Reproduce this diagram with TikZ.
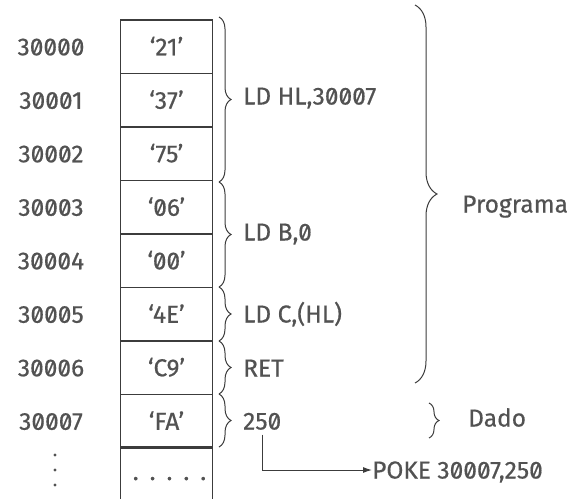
\documentclass[tikz,border=0pt]{standalone}
\usepackage{fontspec}
\setmainfont{Fira Sans}[Numbers=SlashedZero, FakeBold=0.5]
\usetikzlibrary{decorations.pathreplacing,arrows.meta}
\definecolor{ink}{HTML}{3C3C3C}
\definecolor{txt}{HTML}{525252}
\begin{document}
\begin{tikzpicture}[x=1pt,y=-1pt,
  lbl/.style={font=\fontsize{24.5}{28}\selectfont, text=txt, inner sep=0pt, text height=17pt, text depth=0pt},
  cell/.style={draw=ink, line width=1.1pt, minimum width=92pt, minimum height=53.5pt, inner sep=0pt, lbl},
  br/.style={decorate, decoration={brace, amplitude=#1, aspect=0.5}, draw=ink, line width=1pt},
  lab/.style={lbl, anchor=west}]
\fill[white] (0,0) rectangle (567,498);
\useasboundingbox (0,0) rectangle (567,498);
% address labels
\foreach \a/\y in {30000/46.75,30001/100.25,30002/153.75,30003/207.25,30004/260.75,30005/314.25,30006/367.75,30007/421.25}
  \node[lbl] (a\a) at (51,\y) {\a};
\foreach \y [count=\i] in {455,470,485}
  \fill[txt] (55,\y) circle (1.6pt) coordinate (d\i);
% memory cells
\node[cell] (c0) at (166.5,46.75) {‘21’};
\node[cell] (c1) at (166.5,100.25) {‘37’};
\node[cell] (c2) at (166.5,153.75) {‘75’};
\node[cell] (c3) at (166.5,207.25) {‘06’};
\node[cell] (c4) at (166.5,260.75) {‘00’};
\node[cell] (c5) at (166.5,314.25) {‘4E’};
\node[cell] (c6) at (166.5,367.75) {‘C9’};
\node[cell] (c7) at (166.5,421.25) {‘FA’};
\node[cell, minimum height=62pt, text height=4pt] (c8) at (166.5,478) {\hspace{6pt}.\hspace{11pt}.\hspace{11pt}.\hspace{11pt}.\hspace{11pt}.};
% small braces
\draw[br=12pt] (219,17) -- (219,182);
\draw[br=12pt] (219,182) -- (219,287);
\draw[br=12pt] (219,287) -- (219,341);
\draw[br=12pt] (219,341) -- (219,394);
\draw[br=12pt] (219,394) -- (219,447);
% big braces
\draw[br=22pt] (415,5) -- (415,383);
\draw[br=10pt] (429,403) -- (429,438);
% labels
\node[lab] (ldhl) at (243,96) {LD HL,30007};
\node[lab] (ldb) at (243,232) {LD B,0};
\node[lab] (ldc) at (243,314) {LD C,(HL)};
\node[lab] (ret) at (243,368) {RET};
\node[lab] (v250) at (243,421) {250};
\node[lab] (prog) at (462,204) {Programa};
\node[lab] (dado) at (468,418) {Dado};
\node[lab] (poke) at (372,470) {POKE 30007,250};
% arrow
\draw[ink, line width=1pt, -{Latex[length=9pt,width=6pt]}] ([yshift=-5pt]v250.south) |- (poke.west);
\end{tikzpicture}
\end{document}
